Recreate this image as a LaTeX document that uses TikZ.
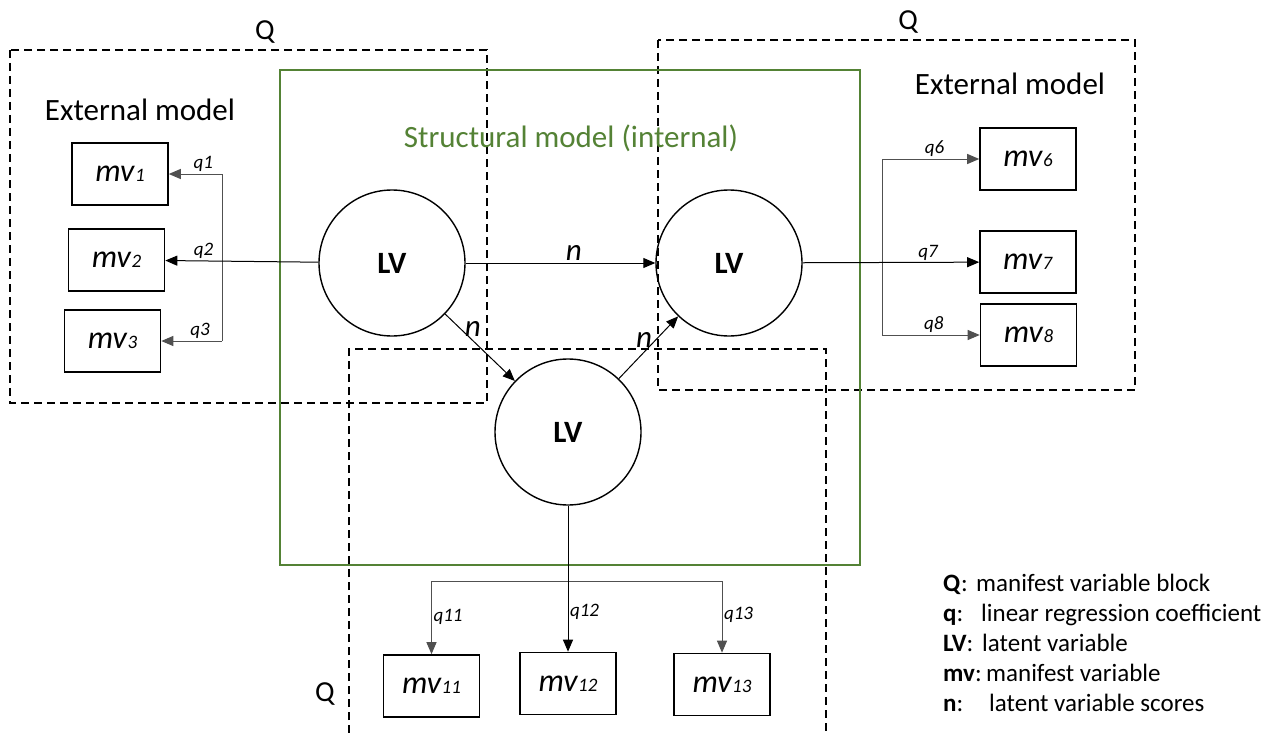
\documentclass[tikz,border=0pt]{standalone}
\usepackage{fontspec}
\setmainfont{Carlito}
\usetikzlibrary{arrows.meta,positioning}
\definecolor{ModelGreen}{HTML}{548235}
\definecolor{LinkGray}{HTML}{505050}
\newcommand{\mvlabel}[1]{\textit{mv}{\fontsize{19}{19}\selectfont\textit{#1}}}
\newcommand{\legkey}[2]{\makebox[#1][l]{\textbf{#2}:}}

\begin{document}
\begin{tikzpicture}[x=1pt,y=-1pt,
    lv/.style={circle,draw,line width=1.4pt,minimum size=146pt,inner sep=0pt,font=\fontsize{31}{34}\selectfont\bfseries},
    mvbox/.style={draw,line width=1.6pt,minimum width=96pt,minimum height=62pt,inner sep=0pt,font=\fontsize{32}{34}\selectfont},
    qblock/.style={draw,line width=1.3pt,dash pattern=on 8pt off 5pt},
    link/.style={-{Triangle[length=12pt,width=10pt]},line width=1pt},
    qlab/.style={text=black,font=\fontsize{19}{20}\selectfont\itshape,inner sep=1.5pt},
    nlab/.style={font=\fontsize{31}{32}\selectfont\itshape,inner sep=2pt}]
  \useasboundingbox (0,0) rectangle (1266,733);
  % manifest variable blocks
  \draw[qblock] (10,50) rectangle (487,403);
  \draw[qblock] (658,40) rectangle (1135,390);
  \draw[qblock] (349,733) -- (349,349) -- (826,349) -- (826,733);
  \node[font=\fontsize{29}{32}\selectfont] (qL) at (265,32) {Q};
  \node[font=\fontsize{29}{32}\selectfont] (qR) at (908,22) {Q};
  \node[font=\fontsize{29}{32}\selectfont] (qB) at (325,694) {Q};
  % structural model
  \draw[ModelGreen,line width=2pt] (280,70) rectangle (860,565);
  \node[ModelGreen,font=\fontsize{31}{34}\selectfont] (smod) at (571,138) {Structural model (internal)};
  \node[font=\fontsize{31}{34}\selectfont] (extL) at (140,110) {External model};
  \node[font=\fontsize{31}{34}\selectfont] (extR) at (1010,84) {External model};
  % latent variables
  \node[lv] (lvL) at (392,263) {LV};
  \node[lv] (lvR) at (729,263) {LV};
  \node[lv] (lvB) at (568,432) {LV};
  % manifest variables
  \node[mvbox] (mv1) at (120,174) {\mvlabel{1}};
  \node[mvbox] (mv2) at (116.5,260) {\mvlabel{2}};
  \node[mvbox] (mv3) at (112.5,341) {\mvlabel{3}};
  \node[mvbox] (mv6) at (1028,159) {\mvlabel{6}};
  \node[mvbox] (mv7) at (1028,262) {\mvlabel{7}};
  \node[mvbox] (mv8) at (1028.5,335) {\mvlabel{8}};
  \node[mvbox] (mv11) at (431.5,686) {\mvlabel{11}};
  \node[mvbox] (mv12) at (568,683.5) {\mvlabel{12}};
  \node[mvbox] (mv13) at (722,684.5) {\mvlabel{13}};
  % inner relations
  \draw[link] (lvL) -- (lvR) node[nlab,pos=0.57,above] {n};
  \draw[link] (lvL) -- (lvB) node[nlab,pos=0.22,right=2pt] {n};
  \draw[link] (lvB) -- (lvR) node[nlab,pos=0.62,left=1pt] {n};
  % left block
  \coordinate (bL1) at (222,174);
  \coordinate (bL3) at (222,341);
  \draw[LinkGray,line width=1pt] (bL1) -- (bL3);
  \draw[link,LinkGray] (bL1) -- (mv1) node[qlab,pos=0.35,above] {q1};
  \draw[link] (lvL) -- (mv2) node[qlab,pos=0.75,above] {q2};
  \draw[link,LinkGray] (bL3) -- (mv3) node[qlab,pos=0.36,above] {q3};
  % right block
  \coordinate (bR6) at (882,159);
  \coordinate (bR8) at (882,335);
  \draw[LinkGray,line width=1pt] (bR6) -- (bR8);
  \draw[link,LinkGray] (bR6) -- (mv6) node[qlab,pos=0.54,above] {q6};
  \draw[link] (lvR) -- (mv7) node[qlab,pos=0.71,above] {q7};
  \draw[link,LinkGray] (bR8) -- (mv8) node[qlab,pos=0.53,above] {q8};
  % bottom block
  \coordinate (bB11) at (431.5,581);
  \coordinate (bB13) at (722,581);
  \draw[LinkGray,line width=1pt] (bB11) -- (bB13);
  \draw[link,LinkGray] (bB11) -- (mv11) node[qlab,pos=0.49,right] {q11};
  \draw[link] (lvB) -- (mv12) node[qlab,pos=0.73,right] {q12};
  \draw[link,LinkGray] (bB13) -- (mv13) node[qlab,pos=0.47,right] {q13};
  % legend
  \node[anchor=north west,align=left,inner sep=0pt,font=\fontsize{25}{30}\selectfont] (legend) at (943,574)
    {\legkey{33pt}{Q}manifest variable block\\
     \legkey{38pt}{q}linear regression coefficient\\
     \legkey{39pt}{LV}latent variable\\
     \legkey{43pt}{mv}manifest variable\\
     \legkey{46pt}{n}latent variable scores};
\end{tikzpicture}
\end{document}
